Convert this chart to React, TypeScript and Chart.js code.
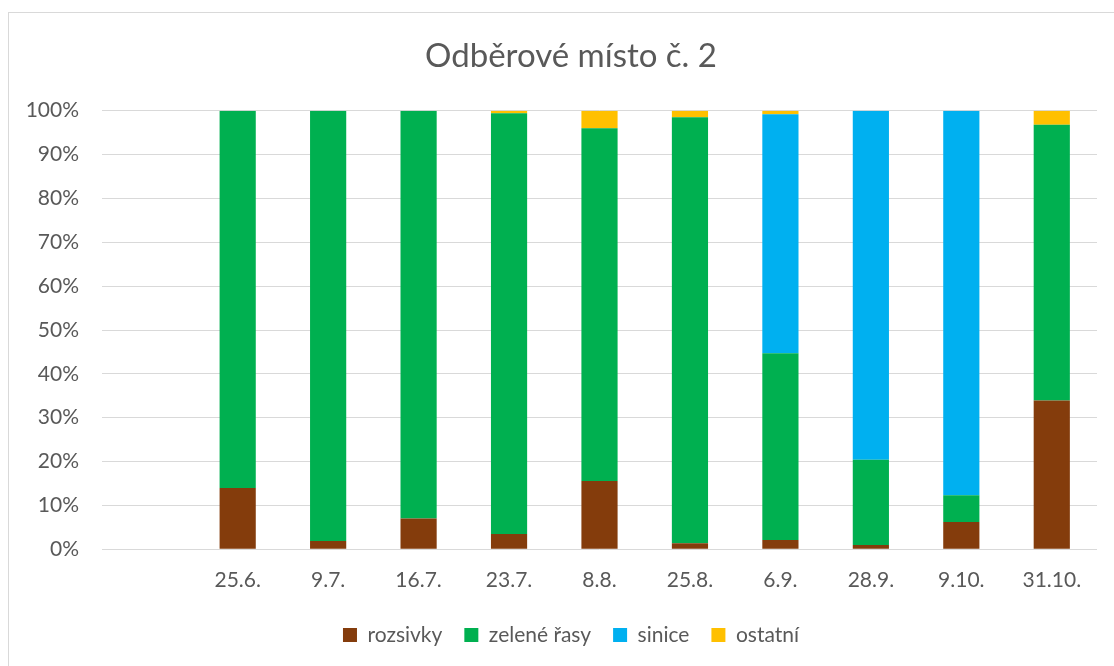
import { useEffect, useRef } from "react";
import { Chart, registerables } from "chart.js";

Chart.register(...registerables);

const categories = ["", "25.6.", "9.7.", "16.7.", "23.7.", "8.8.", "25.8.", "6.9.", "28.9.", "9.10.", "31.10."];
const rozsivky = [null, 14.0, 1.9, 7.0, 3.5, 15.6, 1.4, 2.1, 1.0, 6.2, 33.9];
const zeleneRasy = [null, 86.0, 98.1, 93.0, 95.9, 80.4, 97.1, 42.6, 19.4, 6.1, 62.9];
const sinice = [null, 0, 0, 0, 0, 0, 0, 54.5, 79.6, 87.7, 0];
const ostatni = [null, 0, 0, 0, 0.6, 4.0, 1.5, 0.8, 0, 0, 3.2];
const yTicks = [0, 10, 20, 30, 40, 50, 60, 70, 80, 90, 100];

const FONT = "Lato, 'Open Sans', sans-serif";
const TEXT = "#595959";

const unclipY = {
  id: "unclipY",
  afterLayout(chart: any) {
    if (chart.scales.y) chart.scales.y.left = 0;
  },
};

export default function App() {
  const ref = useRef<HTMLCanvasElement | null>(null);

  useEffect(() => {
    if (!ref.current) return;
    const chart = new Chart(ref.current, {
      type: "bar",
      data: {
        labels: categories,
        datasets: [
          { label: "rozsivky", data: rozsivky, backgroundColor: "#843C0C" },
          { label: "zelené řasy", data: zeleneRasy, backgroundColor: "#00B050" },
          { label: "sinice", data: sinice, backgroundColor: "#00B0F0" },
          { label: "ostatní", data: ostatni, backgroundColor: "#FFC000" },
        ],
      },
      plugins: [unclipY],
      options: {
        responsive: false,
        animation: false,
        layout: { padding: { left: 36, right: 17, top: 0, bottom: 10.5 } },
        datasets: { bar: { barPercentage: 0.4, categoryPercentage: 1.0, borderWidth: 0 } },
        plugins: {
          title: {
            display: true,
            text: "Odběrové místo č. 2",
            color: TEXT,
            font: { family: FONT, size: 33, weight: "normal" },
            padding: { top: 23.5, bottom: 34.6 },
          },
          legend: {
            position: "bottom",
            labels: {
              color: TEXT,
              font: { family: FONT, size: 21 },
              boxWidth: 14,
              boxHeight: 14,
              padding: 22,
            },
          },
          tooltip: { enabled: false },
        },
        scales: {
          x: {
            stacked: true,
            grid: { display: false, drawTicks: false },
            border: { display: false },
            ticks: { color: TEXT, font: { family: FONT, size: 21 }, padding: 18, maxRotation: 0 },
            afterFit: (s: any) => {
              s.height = 53.2;
            },
          },
          y: {
            stacked: true,
            min: 0,
            max: 100,
            grid: { color: "#d9d9d9", lineWidth: 1, drawTicks: false },
            border: { display: false },
            afterBuildTicks: (s: any) => {
              s.ticks = yTicks.map((v) => ({ value: v }));
            },
            ticks: {
              color: TEXT,
              font: { family: FONT, size: 21 },
              padding: 23,
              callback: (v: any) => v + "%",
            },
            afterFit: (s: any) => {
              s.width = 57;
            },
          },
        },
      },
    });
    return () => chart.destroy();
  }, []);

  return (
    <div
      style={{
        position: "fixed",
        left: 8,
        top: 12,
        width: 1105,
        height: 653,
        borderLeft: "1px solid #d9d9d9",
        borderTop: "1px solid #d9d9d9",
        background: "#fff",
      }}
    >
      <canvas ref={ref} width={1105} height={653} style={{ display: "block" }} />
    </div>
  );
}
